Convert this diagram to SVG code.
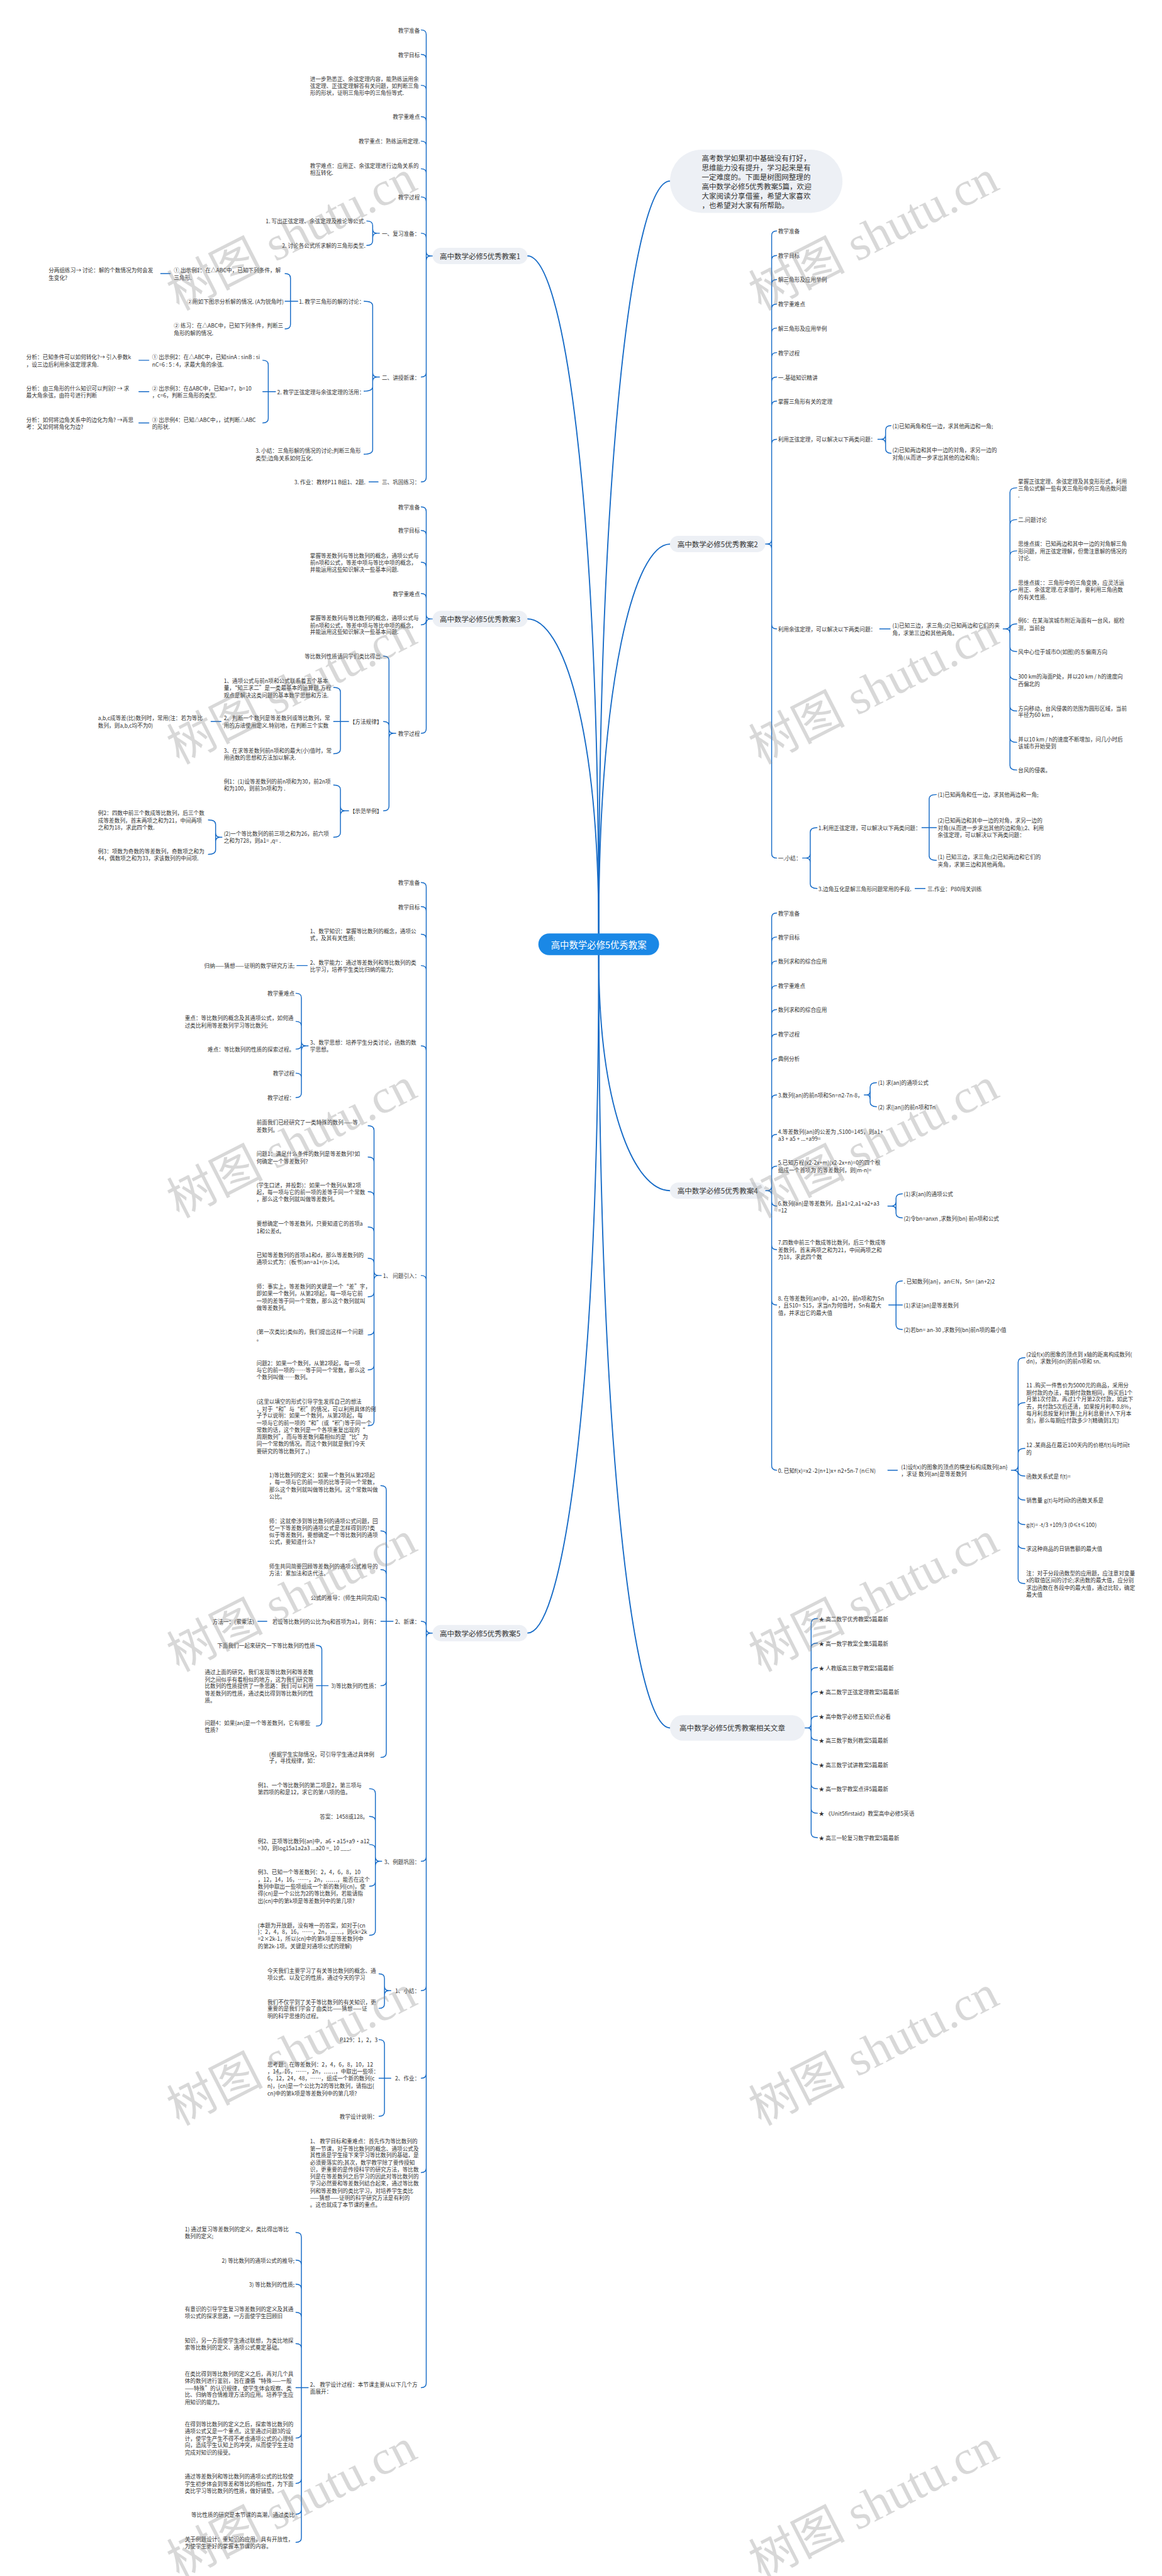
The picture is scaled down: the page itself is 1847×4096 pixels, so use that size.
<svg xmlns="http://www.w3.org/2000/svg" width="1847" height="4096" viewBox="0 0 1847 4096">
<style>
.t{font-family:'Noto Sans CJK SC','Noto Sans',sans-serif;font-size:12px;fill:#333;dominant-baseline:central}
.t tspan{dominant-baseline:central}
.e{text-anchor:end}
.bn{font-size:16px;text-anchor:middle}
.it{font-size:16px}
.cn{font-size:20px;fill:#fff;text-anchor:middle}
.box{fill:#edf0f5}
.ln{fill:none;stroke:#166bc7;stroke-width:2;stroke-linecap:round;stroke-linejoin:round}
.tk{stroke-width:2.6}
.wm{font-family:'Liberation Serif','Noto Sans CJK SC',serif;font-size:106px;fill:#888;fill-opacity:.33;text-anchor:middle;dominant-baseline:central}
</style>
<rect width="1847" height="4096" fill="#fff"/>
<g transform="scale(0.7215)">
<g id="connectors">
<path class="ln tk" d="M1162,564 C1240.5,564 1319,1086.6 1319,2057"/>
<path class="ln tk" d="M1162,1364 C1240.5,1364 1319,1606.6 1319,2057"/>
<path class="ln tk" d="M1162,3599 C1240.5,3599 1319,3076 1319,2105"/>
<path class="ln tk" d="M1476,399 C1397.5,399 1319,979 1319,2057"/>
<path class="ln tk" d="M1476,1199 C1397.5,1199 1319,1499 1319,2057"/>
<path class="ln tk" d="M1476,2624 C1397.5,2624 1319,2442 1319,2105"/>
<path class="ln tk" d="M1476,3808 C1397.5,3808 1319,3212 1319,2105"/>
<path class="ln" d="M928,66 Q939,66 939,76 L939,1052 Q939,1062 928,1062 M939,130 Q939,120 928,120 M939,198 Q939,188 928,188 M939,267 Q939,257 928,257 M939,321 Q939,311 928,311 M939,382 Q939,372 928,372 M939,444 Q939,434 928,434 M939,524 Q939,514 928,514 M939,821 Q939,831 928,831 M939,554 Q939,564 949,564 L953,564 M939,574 Q939,564 949,564"/>
<path class="ln" d="M808,487 Q821,487 821,497 L821,531 Q821,541 808,541 M821,504 Q821,514 831,514 L836,514 M821,524 Q821,514 831,514"/>
<path class="ln" d="M802,664 Q821,664 821,674 L821,991 Q821,1001 802,1001 M821,852 Q821,862 802,862 M821,821 Q821,831 831,831 L836,831 M821,841 Q821,831 831,831"/>
<path class="ln" d="M628,603 Q640,603 640,613 L640,715 Q640,725 628,725 M628,664 L656,664"/>
<path class="ln" d="M354,603 L375,603"/>
<path class="ln" d="M579,794 Q591,794 591,804 L591,922 Q591,932 579,932 M579,863 L607,863"/>
<path class="ln" d="M306,794 L328,794 M306,863 L328,863 M306,932 L328,932"/>
<path class="ln" d="M813,1062 L833,1062"/>
<path class="ln" d="M928,1117 Q939,1117 939,1127 L939,1606 Q939,1616 928,1616 M939,1179 Q939,1169 928,1169 M939,1249 Q939,1239 928,1239 M939,1318 Q939,1308 928,1308 M939,1367 Q939,1377 928,1377 M939,1354 Q939,1364 949,1364 L953,1364 M939,1374 Q939,1364 949,1364"/>
<path class="ln" d="M845,1446 Q857,1446 857,1456 L857,1777 Q857,1787 845,1787 M857,1600 Q857,1590 845,1590 M857,1606 Q857,1616 867,1616 L872,1616 M857,1626 Q857,1616 867,1616"/>
<path class="ln" d="M735,1515 Q750,1515 750,1525 L750,1651 Q750,1661 735,1661 M735,1590 L768,1590"/>
<path class="ln" d="M465,1590 L487,1590"/>
<path class="ln" d="M735,1730 Q750,1730 750,1740 L750,1835 Q750,1845 735,1845 M750,1777 Q750,1787 760,1787 L768,1787 M750,1797 Q750,1787 760,1787"/>
<path class="ln" d="M459,1807 Q475,1807 475,1817 L475,1873 Q475,1883 459,1883 M475,1835 Q475,1845 485,1845 L489,1845 M475,1855 Q475,1845 485,1845"/>
<path class="ln" d="M928,1945 Q939,1945 939,1955 L939,5252 Q939,5262 928,5262 M939,2008 Q939,1998 928,1998 M939,2069 Q939,2059 928,2059 M939,2138 Q939,2128 928,2128 M939,2315 Q939,2305 928,2305 M939,2821 Q939,2811 928,2811 M939,3583 Q939,3573 928,3573 M939,4092 Q939,4102 928,4102 M939,4377 Q939,4387 928,4387 M939,4570 Q939,4580 928,4580 M939,4778 Q939,4788 928,4788 M939,3589 Q939,3599 949,3599 L953,3599 M939,3609 Q939,3599 949,3599"/>
<path class="ln" d="M654,2128 L677,2128"/>
<path class="ln" d="M652,2189 Q664,2189 664,2199 L664,2409 Q664,2419 652,2419 M664,2261 Q664,2251 652,2251 M664,2302 Q664,2312 652,2312 M664,2375 Q664,2365 652,2365 M664,2295 Q664,2305 674,2305 L679,2305 M664,2315 Q664,2305 674,2305"/>
<path class="ln" d="M811,2481 Q824,2481 824,2491 L824,3132 Q824,3142 811,3142 M824,2560 Q824,2550 811,2550 M824,2636 Q824,2626 811,2626 M824,2714 Q824,2704 811,2704 M824,2783 Q824,2773 811,2773 M824,2848 Q824,2858 811,2858 M824,2932 Q824,2942 811,2942 M824,3009 Q824,3019 811,3019 M824,2801 Q824,2811 834,2811 L840,2811 M824,2821 Q824,2811 834,2811"/>
<path class="ln" d="M839,3274 Q851,3274 851,3284 L851,3863 Q851,3873 839,3873 M851,3384 Q851,3374 839,3374 M851,3469 Q851,3459 839,3459 M851,3530 Q851,3520 839,3520 M839,3573 L866,3573 M851,3705 Q851,3715 839,3715"/>
<path class="ln" d="M568,3573 L588,3573"/>
<path class="ln" d="M697,3626 Q709,3626 709,3636 L709,3794 Q709,3804 697,3804 M697,3715 L723,3715"/>
<path class="ln" d="M814,3942 Q827,3942 827,3952 L827,4255 Q827,4265 814,4265 M827,4013 Q827,4003 814,4003 M827,4075 Q827,4065 814,4065 M827,4147 Q827,4157 814,4157 M827,4092 Q827,4102 837,4102 L841,4102 M827,4112 Q827,4102 837,4102"/>
<path class="ln" d="M835,4350 Q847,4350 847,4360 L847,4416 Q847,4426 835,4426 M847,4377 Q847,4387 857,4387 L861,4387 M847,4397 Q847,4387 857,4387"/>
<path class="ln" d="M835,4495 Q847,4495 847,4505 L847,4654 Q847,4664 835,4664 M835,4580 L861,4580"/>
<path class="ln" d="M652,4920 Q664,4920 664,4930 L664,5593 Q664,5603 652,5603 M664,4991 Q664,4981 652,4981 M664,5044 Q664,5034 652,5034 M664,5106 Q664,5096 652,5096 M664,5175 Q664,5165 652,5165 M652,5262 L679,5262 M664,5363 Q664,5373 652,5373 M664,5463 Q664,5473 652,5473 M664,5531 Q664,5541 652,5541"/>
<path class="ln" d="M1711,509 Q1700,509 1700,519 L1700,1881 Q1700,1891 1711,1891 M1700,573 Q1700,563 1711,563 M1700,626 Q1700,616 1711,616 M1700,680 Q1700,670 1711,670 M1700,733 Q1700,723 1711,723 M1700,787 Q1700,777 1711,777 M1700,841 Q1700,831 1711,831 M1700,894 Q1700,884 1711,884 M1700,978 Q1700,968 1711,968 M1700,1376 Q1700,1386 1711,1386 M1700,1189 Q1700,1199 1690,1199 L1685,1199 M1700,1209 Q1700,1199 1690,1199"/>
<path class="ln" d="M1963,938 Q1951,938 1951,948 L1951,989 Q1951,999 1963,999 M1951,958 Q1951,968 1941,968 L1934,968 M1951,978 Q1951,968 1941,968"/>
<path class="ln" d="M1938,1386 L1961,1386"/>
<path class="ln" d="M2240,1075 Q2225,1075 2225,1085 L2225,1687 Q2225,1697 2240,1697 M2225,1155 Q2225,1145 2240,1145 M2225,1224 Q2225,1214 2240,1214 M2225,1309 Q2225,1299 2240,1299 M2225,1385 Q2225,1375 2240,1375 M2225,1426 Q2225,1436 2240,1436 M2225,1488 Q2225,1498 2240,1498 M2225,1557 Q2225,1567 2240,1567 M2225,1626 Q2225,1636 2240,1636 M2225,1376 Q2225,1386 2215,1386 L2210,1386 M2225,1396 Q2225,1386 2215,1386"/>
<path class="ln" d="M1800,1824 Q1785,1824 1785,1834 L1785,1948 Q1785,1958 1800,1958 M1785,1881 Q1785,1891 1775,1891 L1768,1891 M1785,1901 Q1785,1891 1775,1891"/>
<path class="ln" d="M2063,1751 Q2047,1751 2047,1761 L2047,1886 Q2047,1896 2063,1896 M2031,1824 L2063,1824"/>
<path class="ln" d="M2016,1958 L2038,1958"/>
<path class="ln" d="M1711,2012 Q1700,2012 1700,2022 L1700,3230 Q1700,3240 1711,3240 M1700,2075 Q1700,2065 1711,2065 M1700,2128 Q1700,2118 1711,2118 M1700,2182 Q1700,2172 1711,2172 M1700,2235 Q1700,2225 1711,2225 M1700,2289 Q1700,2279 1711,2279 M1700,2343 Q1700,2333 1711,2333 M1700,2423 Q1700,2413 1711,2413 M1700,2510 Q1700,2500 1711,2500 M1700,2580 Q1700,2570 1711,2570 M1700,2648 Q1700,2658 1711,2658 M1700,2744 Q1700,2754 1711,2754 M1700,2866 Q1700,2876 1711,2876 M1700,2614 Q1700,2624 1690,2624 L1686,2624 M1700,2634 Q1700,2624 1690,2624"/>
<path class="ln" d="M1931,2386 Q1917,2386 1917,2396 L1917,2429 Q1917,2439 1931,2439 M1917,2403 Q1917,2413 1910,2413 L1904,2413 M1917,2423 Q1917,2413 1910,2413"/>
<path class="ln" d="M1988,2631 Q1974,2631 1974,2641 L1974,2674 Q1974,2684 1988,2684 M1974,2648 Q1974,2658 1964,2658 L1956,2658 M1974,2668 Q1974,2658 1964,2658"/>
<path class="ln" d="M1988,2823 Q1974,2823 1974,2833 L1974,2920 Q1974,2930 1988,2930 M1958,2876 L1988,2876"/>
<path class="ln" d="M1956,3240 L1977,3240"/>
<path class="ln" d="M2258,2992 Q2243,2992 2243,3002 L2243,3480 Q2243,3490 2258,3490 M2243,3101 Q2243,3091 2258,3091 M2243,3202 Q2243,3192 2258,3192 M2243,3243 Q2243,3253 2258,3253 M2243,3296 Q2243,3306 2258,3306 M2243,3350 Q2243,3360 2258,3360 M2243,3403 Q2243,3413 2258,3413 M2243,3230 Q2243,3240 2233,3240 L2228,3240 M2243,3250 Q2243,3240 2233,3240"/>
<path class="ln" d="M1801,3567 Q1787,3567 1787,3577 L1787,4040 Q1787,4050 1801,4050 M1787,3631 Q1787,3621 1801,3621 M1787,3685 Q1787,3675 1801,3675 M1787,3738 Q1787,3728 1801,3728 M1787,3792 Q1787,3782 1801,3782 M1787,3825 Q1787,3835 1801,3835 M1787,3879 Q1787,3889 1801,3889 M1787,3932 Q1787,3942 1801,3942 M1787,3986 Q1787,3996 1801,3996 M1787,3798 Q1787,3808 1780,3808 L1773,3808 M1787,3818 Q1787,3808 1780,3808"/>
</g>

<g id="center"><rect x="1186" y="2057" width="266" height="48" rx="24" fill="#1a88e6"/><text class="t cn" x="1319" y="2081">高中数学必修5优秀教案</text></g>

<g id="intro"><rect x="1476" y="330" width="380" height="139" rx="69.5" class="box"/><text class="t it"><tspan x="1546" y="348">高考数学如果初中基础没有打好，</tspan><tspan x="1546" y="369">思维能力没有提升，学习起来是有</tspan><tspan x="1546" y="389">一定难度的。下面是树图网整理的</tspan><tspan x="1546" y="410">高中数学必修5优秀教案5篇，欢迎</tspan><tspan x="1546" y="431">大家阅读分享借鉴，希望大家喜欢</tspan><tspan x="1546" y="452">，也希望对大家有所帮助。</tspan></text></g>

<g id="b1"><rect x="953" y="546" width="209" height="36" rx="18" class="box"/><text class="t bn" x="1057.5" y="564">高中数学必修5优秀教案1</text></g>
<g id="b1-1"><text class="t e" x="925" y="66">教学准备</text></g>
<g id="b1-2"><text class="t e" x="925" y="120">教学目标</text></g>
<g id="b1-3"><text class="t"><tspan x="683" y="173">进一步熟悉正、余弦定理内容，能熟练运用余</tspan><tspan x="683" y="188">弦定理、正弦定理解答有关问题，如判断三角</tspan><tspan x="683" y="204">形的形状，证明三角形中的三角恒等式.</tspan></text></g>
<g id="b1-4"><text class="t e" x="925" y="257">教学重难点</text></g>
<g id="b1-5"><text class="t e" x="925" y="311">教学重点：熟练运用定理.</text></g>
<g id="b1-6"><text class="t"><tspan x="683" y="365">教学难点：应用正、余弦定理进行边角关系的</tspan><tspan x="683" y="380">相互转化.</tspan></text></g>
<g id="b1-7"><text class="t e" x="925" y="434">教学过程</text></g>
<g id="b1-8"><text class="t e" x="925" y="514">一、复习准备：</text></g>
<g id="b1-8-1"><text class="t e" x="805" y="487">1. 写出正弦定理、余弦定理及推论等公式.</text></g>
<g id="b1-8-2"><text class="t e" x="805" y="541">2. 讨论各公式所求解的三角形类型.</text></g>
<g id="b1-9"><text class="t e" x="925" y="831">二、讲授新课：</text></g>
<g id="b1-9-1"><text class="t e" x="803" y="664">1. 教学三角形的解的讨论：</text></g>
<g id="b1-9-1-1"><text class="t"><tspan x="383" y="595">① 出示例1：在△ABC中，已知下列条件，解</tspan><tspan x="383" y="611">三角形.</tspan></text></g>
<g id="b1-9-1-1-1"><text class="t"><tspan x="107" y="595">分两组练习→ 讨论：解的个数情况为何会发</tspan><tspan x="107" y="611">生变化?</tspan></text></g>
<g id="b1-9-1-2"><text class="t e" x="625" y="664">②用如下图示分析解的情况. (A为锐角时)</text></g>
<g id="b1-9-1-3"><text class="t"><tspan x="383" y="717">② 练习：在△ABC中，已知下列条件，判断三</tspan><tspan x="383" y="733">角形的解的情况.</tspan></text></g>
<g id="b1-9-2"><text class="t e" x="803" y="863">2. 教学正弦定理与余弦定理的活用：</text></g>
<g id="b1-9-2-1"><text class="t"><tspan x="335" y="786">① 出示例2：在△ABC中，已知sinA : sinB : si</tspan><tspan x="335" y="802">nC=6 : 5 : 4，求最大角的余弦.</tspan></text></g>
<g id="b1-9-2-1-1"><text class="t"><tspan x="58" y="786">分析：已知条件可以如何转化?→ 引入参数k</tspan><tspan x="58" y="802">，设三边后利用余弦定理求角.</tspan></text></g>
<g id="b1-9-2-2"><text class="t"><tspan x="335" y="855">② 出示例3：在ΔABC中，已知a=7，b=10</tspan><tspan x="335" y="871">，c=6，判断三角形的类型.</tspan></text></g>
<g id="b1-9-2-2-1"><text class="t"><tspan x="58" y="855">分析：由三角形的什么知识可以判别? → 求</tspan><tspan x="58" y="871">最大角余弦，由符号进行判断</tspan></text></g>
<g id="b1-9-2-3"><text class="t"><tspan x="335" y="924">③ 出示例4：已知△ABC中，，试判断△ABC</tspan><tspan x="335" y="940">的形状.</tspan></text></g>
<g id="b1-9-2-3-1"><text class="t"><tspan x="58" y="924">分析：如何将边角关系中的边化为角? →再思</tspan><tspan x="58" y="940">考：又如何将角化为边?</tspan></text></g>
<g id="b1-9-3"><text class="t"><tspan x="563" y="993">3. 小结：三角形解的情况的讨论;判断三角形</tspan><tspan x="563" y="1009">类型;边角关系如何互化.</tspan></text></g>
<g id="b1-10"><text class="t e" x="925" y="1062">三、巩固练习：</text></g>
<g id="b1-10-1"><text class="t e" x="805" y="1062">3. 作业：教材P11 B组1、2题.</text></g>

<g id="b3"><rect x="953" y="1346" width="209" height="36" rx="18" class="box"/><text class="t bn" x="1057.5" y="1364">高中数学必修5优秀教案3</text></g>
<g id="b3-1"><text class="t e" x="925" y="1117">教学准备</text></g>
<g id="b3-2"><text class="t e" x="925" y="1169">教学目标</text></g>
<g id="b3-3"><text class="t"><tspan x="683" y="1224">掌握等差数列与等比数列的概念，通项公式与</tspan><tspan x="683" y="1239">前n项和公式，等差中项与等比中项的概念，</tspan><tspan x="683" y="1254">并能运用这些知识解决一些基本问题.</tspan></text></g>
<g id="b3-4"><text class="t e" x="925" y="1308">教学重难点</text></g>
<g id="b3-5"><text class="t"><tspan x="683" y="1361">掌握等差数列与等比数列的概念，通项公式与</tspan><tspan x="683" y="1377">前n项和公式，等差中项与等比中项的概念，</tspan><tspan x="683" y="1392">并能运用这些知识解决一些基本问题.</tspan></text></g>
<g id="b3-6"><text class="t e" x="925" y="1616">教学过程</text></g>
<g id="b3-6-1"><text class="t e" x="842" y="1446">等比数列性质请同学们类比得出.</text></g>
<g id="b3-6-2"><text class="t e" x="842" y="1590">【方法规律】</text></g>
<g id="b3-6-2-1"><text class="t"><tspan x="493" y="1500">1、通项公式与前n项和公式联系着五个基本</tspan><tspan x="493" y="1515">量，“知三求二”是一类最基本的运算题.方程</tspan><tspan x="493" y="1531">观点是解决这类问题的基本数学思想和方法.</tspan></text></g>
<g id="b3-6-2-2"><text class="t"><tspan x="493" y="1582">2、判断一个数列是等差数列或等比数列，常</tspan><tspan x="493" y="1598">用的方法使用定义.特别地，在判断三个实数</tspan></text></g>
<g id="b3-6-2-2-1"><text class="t"><tspan x="216" y="1582">a,b,c成等差(比)数列时，常用(注：若为等比</tspan><tspan x="216" y="1598">数列，则a,b,c均不为0)</tspan></text></g>
<g id="b3-6-2-3"><text class="t"><tspan x="493" y="1653">3、在求等差数列前n项和的最大(小)值时，常</tspan><tspan x="493" y="1669">用函数的思想和方法加以解决.</tspan></text></g>
<g id="b3-6-3"><text class="t e" x="842" y="1787">【示范举例】</text></g>
<g id="b3-6-3-1"><text class="t"><tspan x="493" y="1722">例1：(1)设等差数列的前n项和为30，前2n项</tspan><tspan x="493" y="1737">和为100，则前3n项和为 .</tspan></text></g>
<g id="b3-6-3-2"><text class="t"><tspan x="493" y="1837">(2)一个等比数列的前三项之和为26，前六项</tspan><tspan x="493" y="1852">之和为728，则a1= ,q= .</tspan></text></g>
<g id="b3-6-3-2-1"><text class="t"><tspan x="216" y="1791">例2：四数中前三个数成等比数列，后三个数</tspan><tspan x="216" y="1807">成等差数列，首末两项之和为21，中间两项</tspan><tspan x="216" y="1823">之和为18，求此四个数.</tspan></text></g>
<g id="b3-6-3-2-2"><text class="t"><tspan x="216" y="1875">例3：项数为奇数的等差数列，奇数项之和为</tspan><tspan x="216" y="1891">44，偶数项之和为33，求该数列的中间项.</tspan></text></g>

<g id="b5"><rect x="953" y="3581" width="209" height="36" rx="18" class="box"/><text class="t bn" x="1057.5" y="3599">高中数学必修5优秀教案5</text></g>
<g id="b5-1"><text class="t e" x="925" y="1945">教学准备</text></g>
<g id="b5-2"><text class="t e" x="925" y="1998">教学目标</text></g>
<g id="b5-3"><text class="t"><tspan x="683" y="2051">1、数学知识：掌握等比数列的概念，通项公</tspan><tspan x="683" y="2067">式，及其有关性质;</tspan></text></g>
<g id="b5-4"><text class="t"><tspan x="683" y="2121">2、数学能力：通过等差数列和等比数列的类</tspan><tspan x="683" y="2136">比学习，培养学生类比归纳的能力;</tspan></text></g>
<g id="b5-4-1"><text class="t e" x="649" y="2128">归纳——猜想——证明的数学研究方法;</text></g>
<g id="b5-5"><text class="t"><tspan x="683" y="2297">3、数学思想：培养学生分类讨论，函数的数</tspan><tspan x="683" y="2312">学思想。</tspan></text></g>
<g id="b5-5-1"><text class="t e" x="649" y="2189">教学重难点</text></g>
<g id="b5-5-2"><text class="t"><tspan x="407" y="2243">重点：等比数列的概念及其通项公式，如何通</tspan><tspan x="407" y="2259">过类比利用等差数列学习等比数列;</tspan></text></g>
<g id="b5-5-3"><text class="t e" x="649" y="2312">难点：等比数列的性质的探索过程。</text></g>
<g id="b5-5-4"><text class="t e" x="649" y="2365">教学过程</text></g>
<g id="b5-5-5"><text class="t e" x="649" y="2419">教学过程：</text></g>
<g id="b5-6"><text class="t e" x="925" y="2811">1、 问题引入：</text></g>
<g id="b5-6-1"><text class="t"><tspan x="565" y="2473">前面我们已经研究了一类特殊的数列——等</tspan><tspan x="565" y="2489">差数列。</tspan></text></g>
<g id="b5-6-2"><text class="t"><tspan x="565" y="2542">问题1：满足什么条件的数列是等差数列?如</tspan><tspan x="565" y="2558">何确定一个等差数列?</tspan></text></g>
<g id="b5-6-3"><text class="t"><tspan x="565" y="2611">(学生口述，并投影)：如果一个数列从第2项</tspan><tspan x="565" y="2626">起，每一项与它的前一项的差等于同一个常数</tspan><tspan x="565" y="2642">，那么这个数列就叫做等差数列。</tspan></text></g>
<g id="b5-6-4"><text class="t"><tspan x="565" y="2696">要想确定一个等差数列，只要知道它的首项a</tspan><tspan x="565" y="2712">1和公差d。</tspan></text></g>
<g id="b5-6-5"><text class="t"><tspan x="565" y="2765">已知等差数列的首项a1和d，那么等差数列的</tspan><tspan x="565" y="2781">通项公式为：(板书)an=a1+(n-1)d。</tspan></text></g>
<g id="b5-6-6"><text class="t"><tspan x="565" y="2835">师：事实上，等差数列的关键是一个“差”字，</tspan><tspan x="565" y="2850">即如果一个数列，从第2项起，每一项与它前</tspan><tspan x="565" y="2866">一项的差等于同一个常数，那么这个数列就叫</tspan><tspan x="565" y="2881">做等差数列。</tspan></text></g>
<g id="b5-6-7"><text class="t"><tspan x="565" y="2934">(第一次类比)类似的，我们提出这样一个问题</tspan><tspan x="565" y="2950">。</tspan></text></g>
<g id="b5-6-8"><text class="t"><tspan x="565" y="3003">问题2：如果一个数列，从第2项起，每一项</tspan><tspan x="565" y="3019">与它的前一项的……等于同一个常数，那么这</tspan><tspan x="565" y="3034">个数列叫做……数列。</tspan></text></g>
<g id="b5-6-9"><text class="t"><tspan x="565" y="3088">(这里以填空的形式引导学生发挥自己的想法</tspan><tspan x="565" y="3104">，对于“和”与“积”的情况，可以利用具体的例</tspan><tspan x="565" y="3119">子予以说明：如果一个数列，从第2项起，每</tspan><tspan x="565" y="3135">一项与它的前一项的“和”(或“积”)等于同一个</tspan><tspan x="565" y="3150">常数的话，这个数列是一个各项重复出现的“</tspan><tspan x="565" y="3166">周期数列”，而与等差数列最相似的是“比”为</tspan><tspan x="565" y="3181">同一个常数的情况。而这个数列就是我们今天</tspan><tspan x="565" y="3197">要研究的等比数列了。)</tspan></text></g>
<g id="b5-7"><text class="t e" x="925" y="3573">2、新课：</text></g>
<g id="b5-7-1"><text class="t"><tspan x="593" y="3250">1)等比数列的定义：如果一个数列从第2项起</tspan><tspan x="593" y="3266">，每一项与它的前一项的比等于同一个常数，</tspan><tspan x="593" y="3282">那么这个数列就叫做等比数列。这个常数叫做</tspan><tspan x="593" y="3297">公比。</tspan></text></g>
<g id="b5-7-2"><text class="t"><tspan x="593" y="3351">师：这就牵涉到等比数列的通项公式问题，回</tspan><tspan x="593" y="3366">忆一下等差数列的通项公式是怎样得到的?类</tspan><tspan x="593" y="3382">似于等差数列，要想确定一个等比数列的通项</tspan><tspan x="593" y="3397">公式，要知道什么?</tspan></text></g>
<g id="b5-7-3"><text class="t"><tspan x="593" y="3451">师生共同简要回顾等差数列的通项公式推导的</tspan><tspan x="593" y="3466">方法：累加法和迭代法。</tspan></text></g>
<g id="b5-7-4"><text class="t e" x="836" y="3520">公式的推导：(师生共同完成)</text></g>
<g id="b5-7-5"><text class="t e" x="836" y="3573">若设等比数列的公比为q和首项为a1，则有：</text></g>
<g id="b5-7-5-1"><text class="t e" x="560" y="3573">方法一：(累乘法)</text></g>
<g id="b5-7-6"><text class="t e" x="836" y="3715">3)等比数列的性质：</text></g>
<g id="b5-7-6-1"><text class="t e" x="694" y="3626">下面我们一起来研究一下等比数列的性质</text></g>
<g id="b5-7-6-2"><text class="t"><tspan x="451" y="3684">通过上面的研究，我们发现等比数列和等差数</tspan><tspan x="451" y="3700">列之间似乎有着相似的地方，这为我们研究等</tspan><tspan x="451" y="3715">比数列的性质提供了一条思路：我们可以利用</tspan><tspan x="451" y="3731">等差数列的性质，通过类比得到等比数列的性</tspan><tspan x="451" y="3746">质。</tspan></text></g>
<g id="b5-7-6-3"><text class="t"><tspan x="451" y="3796">问题4：如果{an}是一个等差数列，它有哪些</tspan><tspan x="451" y="3811">性质?</tspan></text></g>
<g id="b5-7-7"><text class="t"><tspan x="593" y="3865">(根据学生实际情况，可引导学生通过具体例</tspan><tspan x="593" y="3880">子，寻找规律，如：</tspan></text></g>
<g id="b5-8"><text class="t e" x="925" y="4102">3、例题巩固：</text></g>
<g id="b5-8-1"><text class="t"><tspan x="568" y="3934">例1、一个等比数列的第二项是2，第三项与</tspan><tspan x="568" y="3949">第四项的和是12，求它的第八项的值。</tspan></text></g>
<g id="b5-8-2"><text class="t e" x="811" y="4003">答案：1458或128。</text></g>
<g id="b5-8-3"><text class="t"><tspan x="568" y="4057">例2、正项等比数列{an}中，a6·a15+a9·a12</tspan><tspan x="568" y="4072">=30，则log15a1a2a3 ...a20 =_ 10 ___.</tspan></text></g>
<g id="b5-8-4"><text class="t"><tspan x="568" y="4125">例3、已知一个等差数列：2，4，6，8，10</tspan><tspan x="568" y="4141">，12，14，16，……，2n，……，能否在这个</tspan><tspan x="568" y="4157">数列中取出一些项组成一个新的数列{cn}，使</tspan><tspan x="568" y="4172">得{cn}是一个公比为2的等比数列，若能请指</tspan><tspan x="568" y="4188">出{cn}中的第k项是等差数列中的第几项?</tspan></text></g>
<g id="b5-8-5"><text class="t"><tspan x="568" y="4242">(本题为开放题，没有唯一的答案，如对于{cn</tspan><tspan x="568" y="4257">}：2，4，8，16，……，2n，……，则ck=2k</tspan><tspan x="568" y="4272">=2×2k-1，所以{cn}中的第k项是等差数列中</tspan><tspan x="568" y="4288">的第2k-1项。关键是对通项公式的理解)</tspan></text></g>
<g id="b5-9"><text class="t e" x="925" y="4387">1、小结：</text></g>
<g id="b5-9-1"><text class="t"><tspan x="589" y="4342">今天我们主要学习了有关等比数列的概念、通</tspan><tspan x="589" y="4358">项公式、以及它的性质，通过今天的学习</tspan></text></g>
<g id="b5-9-2"><text class="t"><tspan x="589" y="4411">我们不仅学到了关于等比数列的有关知识，更</tspan><tspan x="589" y="4426">重要的是我们学会了由类比——猜想——证</tspan><tspan x="589" y="4442">明的科学思维的过程。</tspan></text></g>
<g id="b5-10"><text class="t e" x="925" y="4580">2、作业：</text></g>
<g id="b5-10-1"><text class="t e" x="832" y="4495">P129：1，2，3</text></g>
<g id="b5-10-2"><text class="t"><tspan x="589" y="4549">思考题：在等差数列：2，4，6，8，10，12</tspan><tspan x="589" y="4564">，14，16，……，2n，……，中取出一些项：</tspan><tspan x="589" y="4580">6，12，24，48，……，组成一个新的数列{c</tspan><tspan x="589" y="4596">n}，{cn}是一个公比为2的等比数列，请指出{</tspan><tspan x="589" y="4612">cn}中的第k项是等差数列中的第几项?</tspan></text></g>
<g id="b5-10-3"><text class="t e" x="832" y="4664">教学设计说明：</text></g>
<g id="b5-11"><text class="t"><tspan x="683" y="4718">1、 教学目标和重难点：首先作为等比数列的</tspan><tspan x="683" y="4734">第一节课，对于等比数列的概念、通项公式及</tspan><tspan x="683" y="4749">其性质是学生接下来学习等比数列的基础，是</tspan><tspan x="683" y="4765">必须要落实的;其次，数学教学除了要传授知</tspan><tspan x="683" y="4780">识，更重要的是传授科学的研究方法，等比数</tspan><tspan x="683" y="4796">列是在等差数列之后学习的因此对等比数列的</tspan><tspan x="683" y="4811">学习必然要和等差数列结合起来，通过等比数</tspan><tspan x="683" y="4827">列和等差数列的类比学习，对培养学生类比</tspan><tspan x="683" y="4842">——猜想——证明的科学研究方法是有利的</tspan><tspan x="683" y="4858">。这也就成了本节课的重点。</tspan></text></g>
<g id="b5-12"><text class="t"><tspan x="683" y="5254">2、 教学设计过程：本节课主要从以下几个方</tspan><tspan x="683" y="5270">面展开：</tspan></text></g>
<g id="b5-12-1"><text class="t"><tspan x="407" y="4912">1) 通过复习等差数列的定义，类比得出等比</tspan><tspan x="407" y="4927">数列的定义;</tspan></text></g>
<g id="b5-12-2"><text class="t e" x="649" y="4981">2) 等比数列的通项公式的推导;</text></g>
<g id="b5-12-3"><text class="t e" x="649" y="5034">3) 等比数列的性质;</text></g>
<g id="b5-12-4"><text class="t"><tspan x="407" y="5088">有意识的引导学生复习等差数列的定义及其通</tspan><tspan x="407" y="5103">项公式的探求思路，一方面使学生回顾旧</tspan></text></g>
<g id="b5-12-5"><text class="t"><tspan x="407" y="5157">知识，另一方面使学生通过联想，为类比地探</tspan><tspan x="407" y="5172">索等比数列的定义、通项公式奠定基础。</tspan></text></g>
<g id="b5-12-6"><text class="t"><tspan x="407" y="5231">在类比得到等比数列的定义之后，再对几个具</tspan><tspan x="407" y="5246">体的数列进行鉴别，旨在遵循“特殊——一般</tspan><tspan x="407" y="5262">——特殊”的认识规律，使学生体会观察、类</tspan><tspan x="407" y="5277">比、归纳等合情推理方法的应用。培养学生应</tspan><tspan x="407" y="5293">用知识的能力。</tspan></text></g>
<g id="b5-12-7"><text class="t"><tspan x="407" y="5342">在得到等比数列的定义之后，探索等比数列的</tspan><tspan x="407" y="5357">通项公式又是一个重点。这里通过问题3的设</tspan><tspan x="407" y="5373">计，使学生产生不得不考虑通项公式的心理倾</tspan><tspan x="407" y="5388">向，造成学生认知上的冲突，从而使学生主动</tspan><tspan x="407" y="5404">完成对知识的接受。</tspan></text></g>
<g id="b5-12-8"><text class="t"><tspan x="407" y="5457">通过等差数列和等比数列的通项公式的比较使</tspan><tspan x="407" y="5473">学生初步体会到等差和等比的相似性，为下面</tspan><tspan x="407" y="5488">类比学习等比数列的性质，做好铺垫。</tspan></text></g>
<g id="b5-12-9"><text class="t e" x="649" y="5541">等比性质的研究是本节课的高潮，通过类比</text></g>
<g id="b5-12-10"><text class="t"><tspan x="407" y="5595">关于例题设计：重知识的应用，具有开放性，</tspan><tspan x="407" y="5611">为使学生更好的掌握本节课的内容。</tspan></text></g>

<g id="b2"><rect x="1476" y="1181" width="210" height="36" rx="18" class="box"/><text class="t bn" x="1581" y="1199">高中数学必修5优秀教案2</text></g>
<g id="b2-1"><text class="t" x="1714" y="509">教学准备</text></g>
<g id="b2-2"><text class="t" x="1714" y="563">教学目标</text></g>
<g id="b2-3"><text class="t" x="1714" y="616">解三角形及应用举例</text></g>
<g id="b2-4"><text class="t" x="1714" y="670">教学重难点</text></g>
<g id="b2-5"><text class="t" x="1714" y="723">解三角形及应用举例</text></g>
<g id="b2-6"><text class="t" x="1714" y="777">教学过程</text></g>
<g id="b2-7"><text class="t" x="1714" y="831">一.基础知识精讲</text></g>
<g id="b2-8"><text class="t" x="1714" y="884">掌握三角形有关的定理</text></g>
<g id="b2-9"><text class="t" x="1714" y="968">利用正弦定理，可以解决以下两类问题：</text></g>
<g id="b2-9-1"><text class="t" x="1966" y="938">(1)已知两角和任一边，求其他两边和一角;</text></g>
<g id="b2-9-2"><text class="t"><tspan x="1966" y="991">(2)已知两边和其中一边的对角，求另一边的</tspan><tspan x="1966" y="1007">对角(从而进一步求出其他的边和角);</tspan></text></g>
<g id="b2-10"><text class="t" x="1714" y="1386">利用余弦定理，可以解决以下两类问题：</text></g>
<g id="b2-10-1"><text class="t"><tspan x="1966" y="1378">(1)已知三边，求三角;(2)已知两边和它们的夹</tspan><tspan x="1966" y="1394">角，求第三边和其他两角。</tspan></text></g>
<g id="b2-10-1-1"><text class="t"><tspan x="2243" y="1060">掌握正弦定理、余弦定理及其变形形式，利用</tspan><tspan x="2243" y="1075">三角公式解一些有关三角形中的三角函数问题</tspan><tspan x="2243" y="1091">.</tspan></text></g>
<g id="b2-10-1-2"><text class="t" x="2243" y="1145">二.问题讨论</text></g>
<g id="b2-10-1-3"><text class="t"><tspan x="2243" y="1198">思维点拨：已知两边和其中一边的对角解三角</tspan><tspan x="2243" y="1214">形问题，用正弦定理解，但需注意解的情况的</tspan><tspan x="2243" y="1229">讨论.</tspan></text></g>
<g id="b2-10-1-4"><text class="t"><tspan x="2243" y="1284">思维点拨：：三角形中的三角变换，应灵活运</tspan><tspan x="2243" y="1299">用正、余弦定理.在求值时，要利用三角函数</tspan><tspan x="2243" y="1315">的有关性质.</tspan></text></g>
<g id="b2-10-1-5"><text class="t"><tspan x="2243" y="1367">例6：在某海滨城市附近海面有一台风，据检</tspan><tspan x="2243" y="1383">测，当前台</tspan></text></g>
<g id="b2-10-1-6"><text class="t" x="2243" y="1436">风中心位于城市O(如图)的东偏南方向</text></g>
<g id="b2-10-1-7"><text class="t"><tspan x="2243" y="1490">300 km的海面P处，并以20 km / h的速度向</tspan><tspan x="2243" y="1506">西偏北的</tspan></text></g>
<g id="b2-10-1-8"><text class="t"><tspan x="2243" y="1560">方向移动，台风侵袭的范围为圆形区域，当前</tspan><tspan x="2243" y="1575">半径为60 km ，</tspan></text></g>
<g id="b2-10-1-9"><text class="t"><tspan x="2243" y="1628">并以10 km / h的速度不断增加，问几小时后</tspan><tspan x="2243" y="1644">该城市开始受到</tspan></text></g>
<g id="b2-10-1-10"><text class="t" x="2243" y="1697">台风的侵袭。</text></g>
<g id="b2-11"><text class="t" x="1714" y="1891">一.小结：</text></g>
<g id="b2-11-1"><text class="t" x="1803" y="1824">1.利用正弦定理，可以解决以下两类问题：</text></g>
<g id="b2-11-1-1"><text class="t" x="2066" y="1751">(1)已知两角和任一边，求其他两边和一角;</text></g>
<g id="b2-11-1-2"><text class="t"><tspan x="2066" y="1808">(2)已知两边和其中一边的对角，求另一边的</tspan><tspan x="2066" y="1824">对角(从而进一步求出其他的边和角);2、利用</tspan><tspan x="2066" y="1839">余弦定理，可以解决以下两类问题：</tspan></text></g>
<g id="b2-11-1-3"><text class="t"><tspan x="2066" y="1888">(1) 已知三边，求三角;(2)已知两边和它们的</tspan><tspan x="2066" y="1904">夹角，求第三边和其他两角。</tspan></text></g>
<g id="b2-11-2"><text class="t" x="1803" y="1958">3.边角互化是解三角形问题常用的手段.</text></g>
<g id="b2-11-2-1"><text class="t" x="2043" y="1958">三.作业：P80闯关训练</text></g>

<g id="b4"><rect x="1476" y="2606" width="210" height="36" rx="18" class="box"/><text class="t bn" x="1581" y="2624">高中数学必修5优秀教案4</text></g>
<g id="b4-1"><text class="t" x="1714" y="2012">教学准备</text></g>
<g id="b4-2"><text class="t" x="1714" y="2065">教学目标</text></g>
<g id="b4-3"><text class="t" x="1714" y="2118">数列求和的综合应用</text></g>
<g id="b4-4"><text class="t" x="1714" y="2172">教学重难点</text></g>
<g id="b4-5"><text class="t" x="1714" y="2225">数列求和的综合应用</text></g>
<g id="b4-6"><text class="t" x="1714" y="2279">教学过程</text></g>
<g id="b4-7"><text class="t" x="1714" y="2333">典例分析</text></g>
<g id="b4-8"><text class="t" x="1714" y="2413">3.数列{an}的前n项和Sn=n2-7n-8，</text></g>
<g id="b4-8-1"><text class="t" x="1934" y="2386">(1) 求{an}的通项公式</text></g>
<g id="b4-8-2"><text class="t" x="1934" y="2439">(2) 求{|an|}的前n项和Tn</text></g>
<g id="b4-9"><text class="t"><tspan x="1714" y="2493">4.等差数列{an}的公差为 ,S100=145，则a1+</tspan><tspan x="1714" y="2508">a3 + a5 + ...+a99=</tspan></text></g>
<g id="b4-10"><text class="t"><tspan x="1714" y="2562">5.已知方程(x2-2x+m)(x2-2x+n)=0的四个根</tspan><tspan x="1714" y="2578">组成一个首项为 的等差数列，则|m-n|=</tspan></text></g>
<g id="b4-11"><text class="t"><tspan x="1714" y="2651">6.数列{an}是等差数列，且a1=2,a1+a2+a3</tspan><tspan x="1714" y="2666">=12</tspan></text></g>
<g id="b4-11-1"><text class="t" x="1991" y="2631">(1)求{an}的通项公式</text></g>
<g id="b4-11-2"><text class="t" x="1991" y="2684">(2)令bn=anxn ,求数列{bn} 前n项和公式</text></g>
<g id="b4-12"><text class="t"><tspan x="1714" y="2738">7.四数中前三个数成等比数列，后三个数成等</tspan><tspan x="1714" y="2754">差数列，首末两项之和为21，中间两项之和</tspan><tspan x="1714" y="2769">为18，求此四个数</tspan></text></g>
<g id="b4-13"><text class="t"><tspan x="1714" y="2861">8. 在等差数列{an}中，a1=20，前n项和为Sn</tspan><tspan x="1714" y="2876">，且S10= S15，求当n为何值时，Sn有最大</tspan><tspan x="1714" y="2892">值，并求出它的最大值</tspan></text></g>
<g id="b4-13-1"><text class="t" x="1991" y="2823">. 已知数列{an}，an∈N，Sn= (an+2)2</text></g>
<g id="b4-13-2"><text class="t" x="1991" y="2876">(1)求证{an}是等差数列</text></g>
<g id="b4-13-3"><text class="t" x="1991" y="2930">(2)若bn= an-30 ,求数列{bn}前n项的最小值</text></g>
<g id="b4-14"><text class="t" x="1714" y="3240">0. 已知f(x)=x2 -2(n+1)x+ n2+5n-7 (n∈N)</text></g>
<g id="b4-14-1"><text class="t"><tspan x="1985" y="3232">(1)设f(x)的图象的顶点的横坐标构成数列{an}</tspan><tspan x="1985" y="3248">，求证 数列{an}是等差数列</tspan></text></g>
<g id="b4-14-1-1"><text class="t"><tspan x="2261" y="2984">(2设f(x)的图象的顶点到 x轴的距离构成数列(</tspan><tspan x="2261" y="2999">dn)，求数列{dn}的前n项和 sn.</tspan></text></g>
<g id="b4-14-1-2"><text class="t"><tspan x="2261" y="3052">11 .购买一件售价为5000元的商品，采用分</tspan><tspan x="2261" y="3068">期付款的办法，每期付款数相同，购买后1个</tspan><tspan x="2261" y="3083">月第1次付款，再过1个月第2次付款，如此下</tspan><tspan x="2261" y="3099">去，共付款5次后还清，如果按月利率0.8%，</tspan><tspan x="2261" y="3115">每月利息按复利计算(上月利息要计入下月本</tspan><tspan x="2261" y="3130">金)，那么每期应付款多少?(精确到1元)</tspan></text></g>
<g id="b4-14-1-3"><text class="t"><tspan x="2261" y="3184">12 .某商品在最近100天内的价格f(t)与时间t</tspan><tspan x="2261" y="3200">的</tspan></text></g>
<g id="b4-14-1-4"><text class="t" x="2261" y="3253">函数关系式是 f(t)=</text></g>
<g id="b4-14-1-5"><text class="t" x="2261" y="3306">销售量 g(t)与时间t的函数关系是</text></g>
<g id="b4-14-1-6"><text class="t" x="2261" y="3360">g(t)= -t/3 +109/3 (0≤t≤100)</text></g>
<g id="b4-14-1-7"><text class="t" x="2261" y="3413">求这种商品的日销售额的最大值</text></g>
<g id="b4-14-1-8"><text class="t"><tspan x="2261" y="3467">注：对于分段函数型的应用题，应注意对变量</tspan><tspan x="2261" y="3482">x的取值区间的讨论;求函数的最大值，应分别</tspan><tspan x="2261" y="3498">求出函数在各段中的最大值，通过比较，确定</tspan><tspan x="2261" y="3514">最大值</tspan></text></g>

<g id="rel"><rect x="1476" y="3780" width="297" height="56" rx="28" class="box"/><text class="t it" x="1497" y="3808">高中数学必修5优秀教案相关文章</text></g>
<g id="rel-1"><text class="t" x="1804" y="3567">★ 高二数学优秀教案5篇最新</text></g>
<g id="rel-2"><text class="t" x="1804" y="3621">★ 高一数学教案全集5篇最新</text></g>
<g id="rel-3"><text class="t" x="1804" y="3675">★ 人教版高三数学教案5篇最新</text></g>
<g id="rel-4"><text class="t" x="1804" y="3728">★ 高二数学正弦定理教案5篇最新</text></g>
<g id="rel-5"><text class="t" x="1804" y="3782">★ 高中数学必修五知识点必看</text></g>
<g id="rel-6"><text class="t" x="1804" y="3835">★ 高三数学数列教案5篇最新</text></g>
<g id="rel-7"><text class="t" x="1804" y="3889">★ 高三数学试讲教案5篇最新</text></g>
<g id="rel-8"><text class="t" x="1804" y="3942">★ 高一数学教案点评5篇最新</text></g>
<g id="rel-9"><text class="t" x="1804" y="3996">★ 《Unit5firstaid》教案高中必修5英语</text></g>
<g id="rel-10"><text class="t" x="1804" y="4050">★ 高三一轮复习数学教案5篇最新</text></g>

<g id="watermarks">
<text class="wm" transform="translate(643,519) rotate(-27)">树图 shutu.cn</text>
<text class="wm" transform="translate(1925,519) rotate(-27)">树图 shutu.cn</text>
<text class="wm" transform="translate(643,1519) rotate(-27)">树图 shutu.cn</text>
<text class="wm" transform="translate(1925,1519) rotate(-27)">树图 shutu.cn</text>
<text class="wm" transform="translate(643,2519) rotate(-27)">树图 shutu.cn</text>
<text class="wm" transform="translate(1925,2519) rotate(-27)">树图 shutu.cn</text>
<text class="wm" transform="translate(643,3519) rotate(-27)">树图 shutu.cn</text>
<text class="wm" transform="translate(1925,3519) rotate(-27)">树图 shutu.cn</text>
<text class="wm" transform="translate(643,4519) rotate(-27)">树图 shutu.cn</text>
<text class="wm" transform="translate(1925,4519) rotate(-27)">树图 shutu.cn</text>
<text class="wm" transform="translate(643,5519) rotate(-27)">树图 shutu.cn</text>
<text class="wm" transform="translate(1925,5519) rotate(-27)">树图 shutu.cn</text>
</g>
</g>
</svg>
